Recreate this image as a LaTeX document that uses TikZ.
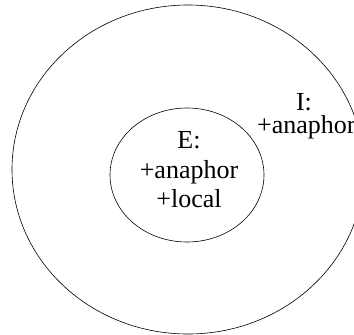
\documentclass[tikz,border=0pt]{standalone}
\usepackage{fontspec}
\setmainfont{Liberation Serif}
\begin{document}
\begin{tikzpicture}[x=1pt,y=-1pt,
  ring/.style={draw=black,line width=0.6pt},
  lbl/.style={inner sep=0pt,font=\fontsize{26}{30}\selectfont,anchor=base}]
\useasboundingbox (0,0) rectangle (354,335);
\clip (0,0) rectangle (354,335);
\draw[ring] (188,169.5) ellipse [x radius=176, y radius=164.5];
\draw[ring] (187,175) ellipse [x radius=77, y radius=67];
\node[lbl] (e1) at (189,148) {E:};
\node[lbl] (e2) at (189,178) {+anaphor};
\node[lbl] (e3) at (189,207) {+local};
\node[lbl] (i1) at (304,110) {I:};
\node[lbl,anchor=base west] (i2) at (257,133) {+anaphor};
\end{tikzpicture}
\end{document}
